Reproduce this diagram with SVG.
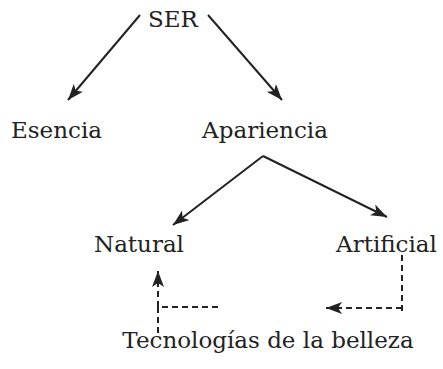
<svg xmlns="http://www.w3.org/2000/svg" width="443" height="369" viewBox="0 0 443 369">
<style>
text{font-family:"DejaVu Serif","Liberation Serif",serif;font-size:23px;fill:#222}
.c{stroke:#222;stroke-width:2;fill:none}
.d{stroke:#222;stroke-width:2;fill:none;stroke-dasharray:6 4}
</style>
<defs>
<marker id="ah" viewBox="0 0 16 12" refX="16" refY="6" markerWidth="16" markerHeight="12" markerUnits="userSpaceOnUse" orient="auto">
<path d="M0,0 L16,6 L0,12 L4,6 Z" fill="#222"/>
</marker>
</defs>
<rect width="443" height="369" fill="#fff"/>
<g id="connectors">
<line class="c" x1="140" y1="15" x2="68" y2="100" marker-end="url(#ah)"/>
<line class="c" x1="208" y1="15" x2="282" y2="100" marker-end="url(#ah)"/>
<line class="c" x1="263" y1="156" x2="173" y2="225" marker-end="url(#ah)"/>
<line class="c" x1="263" y1="156" x2="387" y2="217" marker-end="url(#ah)"/>
<polyline class="d" points="402,255 402,315"/>
<line class="d" x1="402" y1="308" x2="326" y2="308" marker-end="url(#ah)"/>
<polyline class="d" points="218,307 158,307 158,333"/>
<line class="d" x1="158" y1="307" x2="158" y2="271" marker-end="url(#ah)"/>
</g>
<g id="ser"><text x="173" y="27" text-anchor="middle">SER</text></g>
<g id="esencia"><text x="56.5" y="138" text-anchor="middle">Esencia</text></g>
<g id="apariencia"><text x="265" y="138" text-anchor="middle">Apariencia</text></g>
<g id="natural"><text x="139" y="252" text-anchor="middle">Natural</text></g>
<g id="artificial"><text x="386.5" y="252" text-anchor="middle">Artificial</text></g>
<g id="tecnologias"><text x="268" y="348" text-anchor="middle">Tecnologías de la belleza</text></g>
</svg>
